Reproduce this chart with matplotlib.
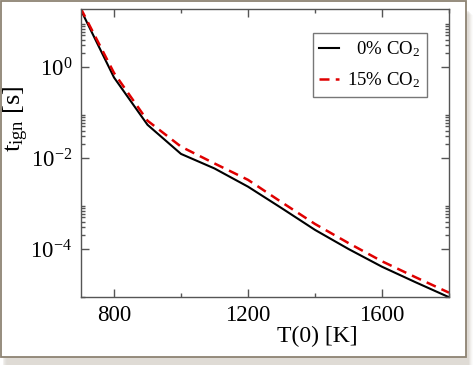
import numpy as np
import matplotlib
matplotlib.use("Agg")
import matplotlib.pyplot as plt
from matplotlib.patches import Rectangle
from matplotlib.ticker import FixedLocator, LogFormatterSciNotation, MultipleLocator

# Data
T = [700, 800, 900, 1000, 1100, 1200, 1300, 1400, 1500, 1600, 1700, 1800]
log_t_0co2 = [1.27, -0.23, -1.27, -1.91, -2.23, -2.63, -3.10, -3.58, -4.00, -4.39, -4.73, -5.06]
log_t_15co2 = [1.30, -0.13, -1.18, -1.75, -2.12, -2.48, -2.97, -3.45, -3.87, -4.27, -4.62, -4.96]
labels = ["\u20070% CO$_2$", "15% CO$_2$"]
xticks = [800, 1200, 1600]

plt.rcParams['font.family'] = ['Liberation Serif', 'DejaVu Serif']
plt.rcParams['mathtext.fontset'] = 'custom'
plt.rcParams['mathtext.rm'] = 'Liberation Serif'
plt.rcParams['mathtext.it'] = 'Liberation Serif:italic'
plt.rcParams['mathtext.default'] = 'regular'
plt.rcParams['axes.unicode_minus'] = False

fig = plt.figure(figsize=(4.73, 3.65), dpi=100)
W, H = 473, 365

# shadow + framed page
for i, a in enumerate([0.05, 0.08, 0.12, 0.16, 0.2]):
    off = 7 - i
    fig.patches.append(Rectangle((off / W, 0), 466 / W, (357 - off) / H,
                                 transform=fig.transFigure, facecolor='#bfb8ad', alpha=a,
                                 edgecolor='none', zorder=-10))
fig.patches.append(Rectangle((0.5 / W, (H - 357) / H), 465.5 / W, 356.5 / H,
                             transform=fig.transFigure, facecolor='white',
                             edgecolor='#8e8373', linewidth=1.3, zorder=-5))

ax = fig.add_axes([80.5 / W, (H - 297) / H, (449 - 80.5) / W, (297 - 9) / H])
ax.set_facecolor('none')

ax.plot(T, 10 ** np.array(log_t_0co2), color='black', lw=1.5, label=labels[0])
ax.plot(T, 10 ** np.array(log_t_15co2), color='#e00000', lw=1.8, ls=(0, (4, 2.5)), label=labels[1])

ax.set_yscale('log')
ax.set_xlim(700, 1800)
ax.set_ylim(10 ** -5.055, 10 ** 1.275)

ax.xaxis.set_major_locator(FixedLocator(xticks))
ax.xaxis.set_minor_locator(MultipleLocator(200))
majors = [10.0 ** k for k in range(-6, 3, 2)]
minors = [m * 10.0 ** k for k in range(-6, 3, 2) for m in range(2, 10)]
ax.yaxis.set_major_locator(FixedLocator(majors))
ax.yaxis.set_minor_locator(FixedLocator(minors))
ax.yaxis.set_major_formatter(LogFormatterSciNotation())

spine_c = '#555555'
for s in ax.spines.values():
    s.set_color(spine_c)
    s.set_linewidth(1.0)
ax.tick_params(which='both', direction='in', top=True, right=True, color=spine_c,
               labelsize=16.5, width=1.0)
ax.tick_params(which='major', length=6, pad=6)
ax.tick_params(which='minor', length=3)

ax.set_xlabel('T(0) [K]', fontsize=17)
ax.xaxis.set_label_coords(0.643, -0.10)
ax.set_ylabel(r'$t_{ign}$ [s]', fontsize=19)
ax.yaxis.set_label_coords(-0.135, 0.62)

leg = ax.legend(loc='upper right', bbox_to_anchor=(0.94, 0.917), borderaxespad=0,
                fontsize=13.5, frameon=True, fancybox=False, edgecolor='#555555',
                handlelength=1.05, handletextpad=0.45, borderpad=0.35, labelspacing=0.6)
leg.get_frame().set_linewidth(1.0)

fig.savefig('out.png', dpi=100)
